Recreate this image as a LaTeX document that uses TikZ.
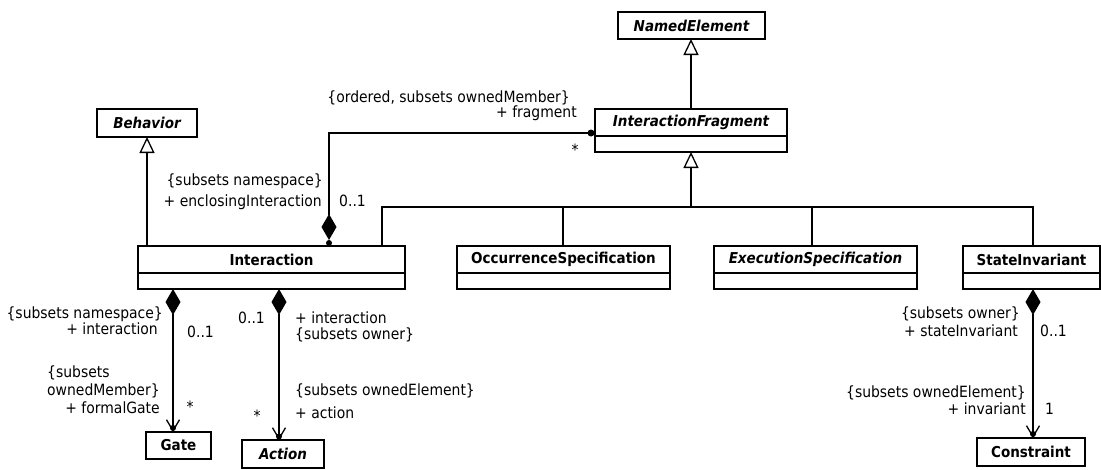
\documentclass[tikz,border=0pt]{standalone}
\usepackage{fontspec}
\setmainfont{DejaVu Sans Condensed}[
  BoldFont={DejaVu Sans Condensed Bold},
  ItalicFont={DejaVu Sans Condensed Oblique},
  BoldItalicFont={DejaVu Sans Condensed Bold Oblique}]
\usetikzlibrary{arrows.meta,calc}

\tikzset{
  line/.style={line width=1.4pt, draw=black},
  cname/.style={draw=black, line width=1.3pt, fill=white, inner sep=0pt, outer sep=0pt,
    minimum height=27pt, font=\fontsize{15}{17}\selectfont\bfseries},
  cattr/.style={draw=black, line width=1.3pt, fill=white, inner sep=0pt, outer sep=0pt,
    minimum height=16pt},
  lbl/.style={inner sep=0pt, font=\fontsize{15.5}{17}\selectfont},
  gen/.tip={Triangle[length=16pt, width=15pt, fill=white, line width=1.3pt]},
  comp/.tip={Diamond[length=26pt, width=15pt]},
  nav/.tip={Straight Barb[length=11pt, width=13pt, line width=1.3pt]},
}

\begin{document}
\begin{tikzpicture}[x=1pt, y=-1pt]
\useasboundingbox (0,0) rectangle (1101,469);
\fill[white] (0,0) rectangle (1101,469);

% classes
\node[cname, minimum width=147pt, anchor=north west] (namedE) at (618,12) {\itshape NamedElement};
\node[cname, minimum width=192pt, anchor=north west] (fragN) at (595,109) {\itshape InteractionFragment};
\node[cattr, minimum width=192pt, anchor=north] (fragA) at (fragN.south) {};
\node[cname, minimum width=100pt, minimum height=28pt, anchor=north west] (behav) at (97,109) {\itshape Behavior};
\node[cname, minimum width=267pt, anchor=north west] (interN) at (138,246) {Interaction};
\node[cattr, minimum width=267pt, anchor=north] (interA) at (interN.south) {};
\node[cname, minimum width=213pt, anchor=north west] (occN) at (457,246) {OccurrenceSpecification};
\node[cattr, minimum width=213pt, anchor=north] (occA) at (occN.south) {};
\node[cname, minimum width=203pt, anchor=north west] (execN) at (714,246) {\itshape ExecutionSpecification};
\node[cattr, minimum width=203pt, anchor=north] (execA) at (execN.south) {};
\node[cname, minimum width=137pt, anchor=north west] (siN) at (963,246) {StateInvariant};
\node[cattr, minimum width=137pt, anchor=north] (siA) at (siN.south) {};
\node[cname, minimum width=65pt, anchor=north west] (gate) at (146,432) {Gate};
\node[cname, minimum width=82pt, minimum height=28pt, anchor=north west] (action) at (242,440) {\itshape Action};
\node[cname, minimum width=108pt, minimum height=28pt, anchor=north west] (constr) at (977,438) {Constraint};

% junction points of the generalization tree
\coordinate (j1) at (382,207);
\coordinate (jOcc) at (563,207);
\coordinate (jExec) at (812,207);
\coordinate (jSI) at (1033,207);
% association ends
\coordinate (encl) at (329,240);
\coordinate (fragEnd) at (591,133);
\coordinate (gateEnd) at (173,432);
\coordinate (actEnd) at (279,440);
\coordinate (siEnd) at (1033,438);

% generalizations
\draw[line, -{gen}] (fragN.north) -- (namedE.south -| fragN.north);
\draw[line, -{gen}] (interN.north -| behav.south) -- (behav.south);
\draw[line] (interN.north -| j1) -- (j1) -- (jSI) -- (siN.north -| jSI);
\draw[line] (occN.north -| jOcc) -- (jOcc);
\draw[line] (execN.north -| jExec) -- (jExec);
\draw[line, -{gen}] (fragA.south |- j1) -- (fragA.south);

% compositions
\draw[line, {comp}-] (encl) |- (fragEnd);
\fill ($(encl)+(0,3)$) circle (3pt);
\fill (fragEnd) circle (3.5pt);

\draw[line, {comp}-{nav}] (interA.south -| gateEnd) -- (gateEnd);
\fill ($(gateEnd)+(0,-4)$) circle (3pt);

\draw[line, {comp}-{nav}] (interA.south -| actEnd) -- (actEnd);
\fill ($(actEnd)+(0,-3.5)$) circle (3pt);

\draw[line, {comp}-{nav}] (siA.south -| siEnd) -- (siEnd);
\fill ($(siEnd)+(0,-4)$) circle (3pt);

% role names and multiplicities
\node[lbl, anchor=base east] (l1) at (570,102) {\{ordered, subsets ownedMember\}};
\node[lbl, anchor=base east] (l2) at (577,117) {+ fragment};
\node[lbl] (l3) at (575,150) {*};
\node[lbl, anchor=base east] (l4) at (323,185) {\{subsets namespace\}};
\node[lbl, anchor=base east] (l5) at (322,206) {+ enclosingInteraction};
\node[lbl, anchor=base west] (l6) at (339,206) {0..1};

\node[lbl, anchor=base east] (g1) at (163,318) {\{subsets namespace\}};
\node[lbl, anchor=base east] (g2) at (158,334) {+ interaction};
\node[lbl, anchor=base west] (g3) at (187,337) {0..1};
\node[lbl, anchor=base west] (g4) at (47,377) {\{subsets};
\node[lbl, anchor=base west] (g5) at (47,395) {ownedMember\}};
\node[lbl, anchor=base east] (g6) at (160,413) {+ formalGate};
\node[lbl] (g7) at (190,407) {*};

\node[lbl, anchor=base east] (a1) at (265,323) {0..1};
\node[lbl, anchor=base west] (a2) at (295,323) {+ interaction};
\node[lbl, anchor=base west] (a3) at (295,339) {\{subsets owner\}};
\node[lbl, anchor=base west] (a4) at (295,395) {\{subsets ownedElement\}};
\node[lbl, anchor=base west] (a5) at (295,418) {+ action};
\node[lbl] (a6) at (257,416) {*};

\node[lbl, anchor=base east] (s1) at (1020,318) {\{subsets owner\}};
\node[lbl, anchor=base east] (s2) at (1018,336) {+ stateInvariant};
\node[lbl, anchor=base west] (s3) at (1040,336) {0..1};
\node[lbl, anchor=base east] (s4) at (1026,397) {\{subsets ownedElement\}};
\node[lbl, anchor=base east] (s5) at (1026,414) {+ invariant};
\node[lbl, anchor=base west] (s6) at (1045,414) {1};
\end{tikzpicture}
\end{document}
